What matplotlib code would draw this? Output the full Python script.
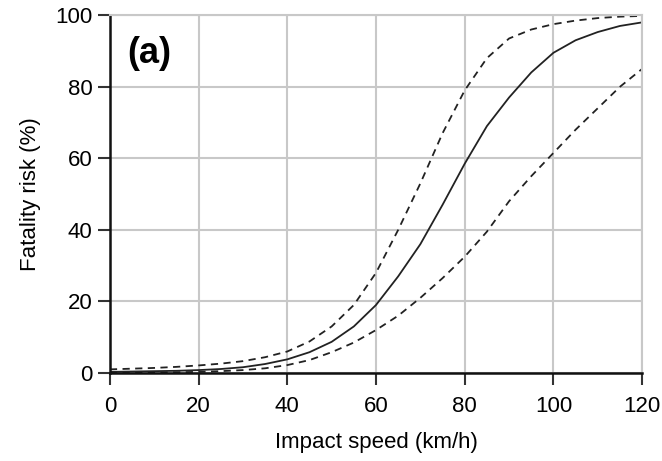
import matplotlib.pyplot as plt

plt.rcParams['font.family'] = ['Liberation Sans', 'DejaVu Sans']

# impact speed (km/h)
speed = [0, 5, 10, 15, 20, 25, 30, 35, 40, 45, 50, 55, 60, 65, 70, 75, 80,
         85, 90, 95, 100, 105, 110, 115, 120]
# fatality risk (%), central estimate and confidence limits
risk = [0.3, 0.4, 0.5, 0.6, 0.8, 1.1, 1.6, 2.5, 3.8, 5.8, 8.7, 13, 19, 27, 36,
        47, 58.5, 69, 77, 84, 89.5, 93, 95.3, 97, 98]
risk_upper = [1.0, 1.2, 1.4, 1.7, 2.1, 2.6, 3.3, 4.4, 6.0, 8.8, 13, 19, 28, 40,
              53, 67, 79, 88, 93.5, 96, 97.5, 98.5, 99.2, 99.6, 99.8]
risk_lower = [0.1, 0.1, 0.15, 0.2, 0.3, 0.5, 0.8, 1.3, 2.2, 3.6, 5.8, 8.5, 12,
              16, 21, 26.5, 32.5, 39.5, 48, 55, 61.5, 68, 74, 80, 85]

fig = plt.figure(figsize=(6.62, 4.61), dpi=100)
ax = fig.add_axes([0.166, 0.191, 0.804, 0.776])

ax.plot(speed, risk, color='#222222', lw=1.3)
ax.plot(speed, risk_upper, color='#222222', lw=1.3, ls=(0, (4, 3)))
ax.plot(speed, risk_lower, color='#222222', lw=1.3, ls=(0, (4, 3)))

ax.set_xlim(0, 120)
ax.set_ylim(0, 100)
ax.set_xticks(range(0, 121, 20))
ax.set_yticks(range(0, 101, 20))
ax.grid(True, color='#c8c8c8', lw=1.5)
ax.set_axisbelow(True)

for side in ['top', 'right']:
    ax.spines[side].set_color('#c8c8c8')
    ax.spines[side].set_linewidth(1.5)
for side in ['left', 'bottom']:
    ax.spines[side].set_color('#111111')
    ax.spines[side].set_linewidth(1.8)

ax.tick_params(direction='out', length=8.5, width=1.5, color='#333333',
               labelsize=16)
ax.tick_params(axis='x', pad=8)
ax.tick_params(axis='y', pad=4)
ax.set_xlabel('Impact speed (km/h)', fontsize=16, labelpad=11)
ax.set_ylabel('Fatality risk (%)', fontsize=16, labelpad=10)

ax.text(4, 89.4, '(a)', fontsize=26, fontweight='bold', va='center', ha='left')

fig.savefig('out.png', dpi=100)
